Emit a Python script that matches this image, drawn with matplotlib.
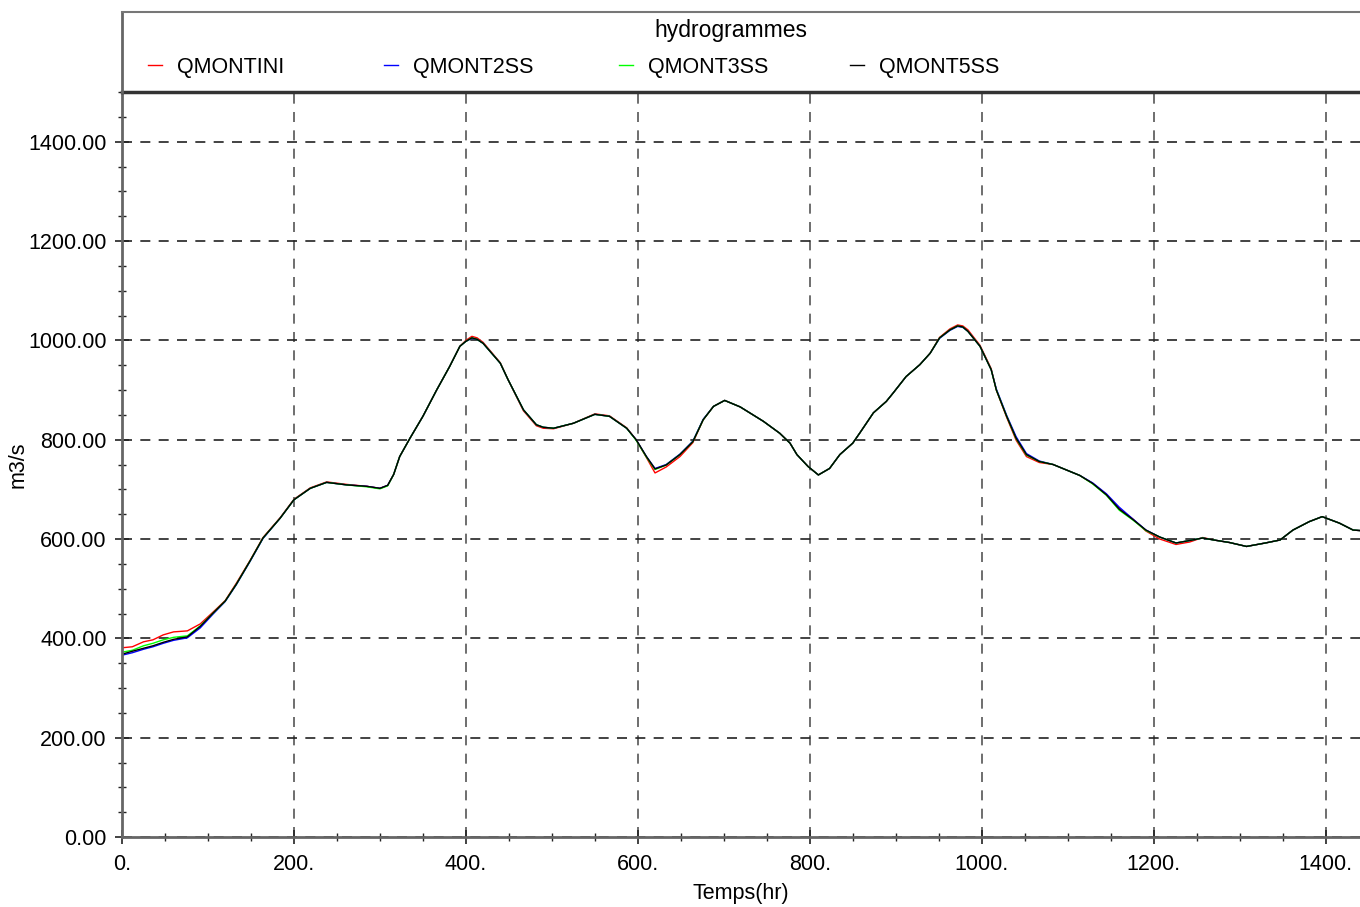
import numpy as np
import matplotlib.pyplot as plt
from matplotlib.ticker import MultipleLocator, FormatStrFormatter

plt.rcParams['font.family'] = ['Liberation Sans', 'DejaVu Sans']

# time (hr)
temps = [0, 12, 25, 36, 48, 60, 76, 91, 106, 120, 133, 149, 164, 184, 200,
         219, 238, 261, 285, 300, 309, 316, 323, 335, 350, 366, 381, 393, 400, 407, 413, 420,
         440, 449, 467, 482, 490, 502, 525, 550, 567, 587, 598, 610, 620, 633, 649,
         664, 676, 688, 701, 719, 746, 765, 777, 785, 798, 810, 823, 835, 850,
         858, 874, 889, 897, 912, 928, 940, 951, 963, 972, 978, 984, 998, 1011, 1017,
         1029, 1040, 1052, 1067, 1083, 1114, 1129, 1145, 1160, 1176, 1191, 1207,
         1226, 1242, 1257, 1270, 1288, 1308, 1330, 1347, 1362, 1381, 1396, 1416,
         1432, 1440]

qmont5ss = [368, 374, 380, 385, 392, 398, 403, 424, 451, 475, 509, 556, 602, 642, 679,
            702, 714, 709, 706, 702, 708, 730, 766, 803, 847, 900, 947, 988, 998, 1005, 1002, 994,
            954, 921, 860, 830, 825, 823, 833, 851, 847, 823, 800, 766, 741, 749, 770,
            796, 840, 867, 879, 866, 837, 813, 793, 770, 746, 729, 742, 770, 793,
            813, 854, 877, 894, 927, 951, 974, 1005, 1021, 1029, 1027, 1018, 988, 941, 900,
            847, 803, 770, 756, 750, 728, 712, 689, 660, 639, 618, 604,
            592, 597, 602, 598, 593, 585, 592, 598, 618, 635, 645, 632,
            618, 617]

qmontini = [381, 383, 393, 397, 407, 413, 415, 429, 453, 476, 511, 557, 603, 643, 680,
            703, 715, 710, 706, 702, 708, 730, 766, 803, 847, 900, 947, 988, 1000, 1008, 1005, 996,
            955, 921, 858, 828, 823, 822, 833, 852, 848, 824, 800, 764, 733, 745, 766,
            794, 840, 867, 879, 866, 837, 813, 793, 770, 746, 729, 742, 770, 793,
            813, 854, 877, 894, 927, 951, 974, 1006, 1023, 1031, 1029, 1021, 990, 943, 900,
            845, 799, 766, 754, 750, 728, 712, 690, 661, 640, 616, 600,
            589, 594, 603, 598, 593, 585, 592, 598, 618, 635, 645, 632,
            618, 617]

qmont2ss = [366, 371, 378, 383, 390, 396, 401, 421, 449, 474, 508, 555, 601, 642, 679,
            702, 714, 709, 706, 702, 708, 730, 766, 803, 847, 900, 947, 988, 998, 1004, 1002, 994,
            954, 921, 860, 830, 825, 823, 833, 851, 847, 823, 800, 766, 742, 750, 771,
            797, 841, 867, 879, 866, 837, 813, 793, 770, 746, 729, 742, 770, 793,
            813, 854, 877, 894, 927, 951, 974, 1004, 1020, 1028, 1026, 1018, 988, 941, 902,
            849, 806, 772, 757, 750, 728, 713, 691, 664, 640, 618, 604,
            592, 597, 602, 598, 593, 585, 592, 598, 618, 635, 645, 632,
            618, 617]

qmont3ss = [372, 376, 385, 390, 397, 402, 405, 425, 451, 475, 509, 556, 602, 642, 679,
            702, 714, 709, 705, 701, 707, 730, 766, 803, 847, 900, 947, 988, 998, 1005, 1002, 994,
            954, 921, 860, 830, 825, 823, 833, 851, 847, 823, 799, 765, 740, 749, 770,
            796, 840, 867, 879, 866, 837, 813, 793, 770, 746, 729, 742, 770, 793,
            813, 854, 877, 894, 927, 951, 974, 1005, 1021, 1029, 1027, 1018, 988, 941, 900,
            847, 802, 769, 756, 750, 728, 711, 688, 658, 638, 617, 604,
            592, 597, 602, 598, 593, 585, 592, 598, 618, 635, 645, 632,
            618, 617]

noms = ['QMONTINI', 'QMONT2SS', 'QMONT3SS', 'QMONT5SS']
series = [qmontini, qmont2ss, qmont3ss, qmont5ss]
couleurs = ['#ff0000', '#0000ff', '#00ff00', '#000000']

fig = plt.figure(figsize=(13.6, 9.07), dpi=100)
W, H = 1360., 907.
ax = fig.add_axes([122 / W, 70 / H, 1238 / W, 745 / H])
ax_leg = fig.add_axes([122 / W, 815 / H, 1238 / W, 80 / H])

for y, c in zip(series, couleurs):
    ax.plot(temps, y, color=c, lw=1.0)

ax.set_xlim(0, 1440)
ax.set_ylim(0, 1500)
ax.xaxis.set_major_locator(MultipleLocator(200))
ax.xaxis.set_minor_locator(MultipleLocator(50))
ax.yaxis.set_major_locator(MultipleLocator(200))
ax.yaxis.set_minor_locator(MultipleLocator(50))
ax.xaxis.set_major_formatter(FormatStrFormatter('%d.'))
ax.yaxis.set_major_formatter(FormatStrFormatter('%.2f'))

ax.tick_params(which='major', direction='inout', length=10, width=1.2,
               color='#222222', labelsize=15.5)
ax.tick_params(which='minor', direction='inout', length=6, width=1.0, color='#222222')
ax.tick_params(axis='y', pad=6)
ax.tick_params(axis='x', pad=7)

ax.xaxis.grid(True, which='major', color='#555555', ls=(0, (6, 5)), lw=1.2)
ax.yaxis.grid(True, which='major', color='#222222', ls=(0, (6, 5)), lw=1.2)
ax.set_axisbelow(True)

ax.spines['right'].set_visible(False)
ax.spines['left'].set_color('#666666')
ax.spines['left'].set_linewidth(2)
ax.spines['bottom'].set_color('#666666')
ax.spines['bottom'].set_linewidth(2)
ax.spines['top'].set_color('#333333')
ax.spines['top'].set_linewidth(2.5)

ax.set_xlabel('Temps(hr)', fontsize=15.5, labelpad=6)
ax.set_ylabel('m3/s', fontsize=15.5, labelpad=0)

# legend box
ax_leg.set_xticks([])
ax_leg.set_yticks([])
ax_leg.set_xlim(0, 1)
ax_leg.set_ylim(0, 1)
ax_leg.spines['right'].set_visible(False)
ax_leg.spines['bottom'].set_visible(False)
ax_leg.spines['top'].set_color('#777777')
ax_leg.spines['top'].set_linewidth(1.5)
ax_leg.spines['left'].set_color('#666666')
ax_leg.spines['left'].set_linewidth(2)
ax_leg.set_facecolor('none')

ax_leg.text(0.492, 0.775, 'hydrogrammes', ha='center', va='center', fontsize=16.5)
x_pos = [0.021, 0.2116, 0.4015, 0.5881]
for x0, nom, c in zip(x_pos, noms, couleurs):
    ax_leg.plot([x0, x0 + 0.011], [0.34, 0.34], color=c, lw=1.0)
    ax_leg.text(x0 + 0.0234, 0.31, nom, ha='left', va='center', fontsize=15.5)

plt.savefig('out.png', dpi=100)
